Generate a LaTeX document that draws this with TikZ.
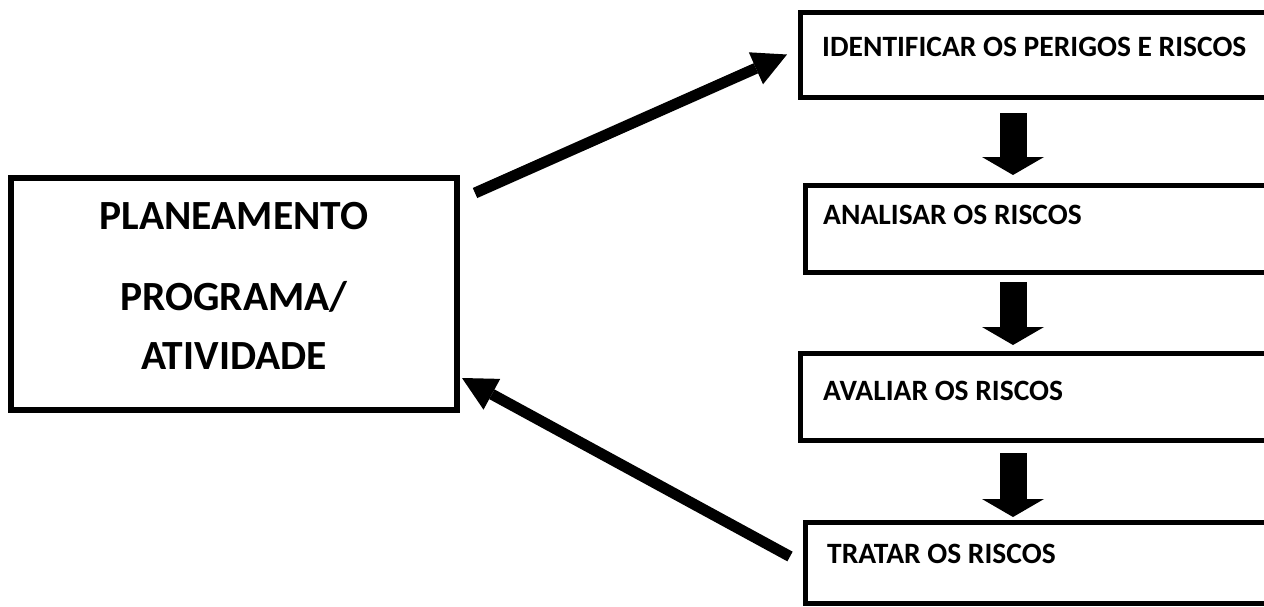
\documentclass[tikz,border=0pt]{standalone}
\usepackage{fontspec}
\setmainfont{Carlito}
\usetikzlibrary{arrows.meta,positioning,calc}

\begin{document}
\begin{tikzpicture}[
    x=1pt, y=-1pt,
    planbox/.style={rectangle, draw, line width=5.5pt, outer sep=0pt, inner sep=0pt, minimum width=446pt, minimum height=232pt},
    riskbox/.style={rectangle, draw, line width=5pt, outer sep=0pt, inner sep=0pt, minimum width=490pt, anchor=west},
    risktext/.style={anchor=west, inner sep=0pt, font=\fontsize{29.5}{35}\selectfont\bfseries},
    plantext/.style={anchor=north, inner sep=0pt, align=center, font=\fontsize{41.5}{59}\selectfont\bfseries},
    downarrow/.style={line width=27pt, -{Triangle[length=18pt,width=62pt,line width=0pt]}},
    bigarrow/.style={line width=11pt, -{Triangle[length=34pt,width=35pt,line width=0pt]}}
]

% Page frame
\useasboundingbox (0,0) rectangle (1264,606);
\clip (0,0) rectangle (1264,606);

% Left side - planning
\node[planbox] (plan) at (234,294) {};
\node[plantext] (plantxt) at ([yshift=-24pt]plan.north) {PLANEAMENTO\\[22pt]PROGRAMA/\\ATIVIDADE};

% Right side - risk steps
\node[riskbox, minimum height=85pt] (ident) at (800,54.5) {};
\node[riskbox, minimum height=87pt] (analyse) at (805,228.5) {};
\node[riskbox, minimum height=87pt] (evaluate) at (800,396.5) {};
\node[riskbox, minimum height=81pt] (treat) at (805,562.5) {};

\node[risktext] (identtxt) at ([xshift=22pt,yshift=7.5pt]ident.west) {IDENTIFICAR OS PERIGOS E RISCOS};
\node[risktext] (analysetxt) at ([xshift=18pt,yshift=13.5pt]analyse.west) {ANALISAR OS RISCOS};
\node[risktext] (evaluatetxt) at ([xshift=23pt,yshift=5.5pt]evaluate.west) {AVALIAR OS RISCOS};
\node[risktext] (treattxt) at ([xshift=22pt,yshift=8.5pt]treat.west) {TRATAR OS RISCOS};

% Arrows - steps
\coordinate (flow) at (1013,0);
\draw[downarrow, shorten <=16pt, shorten >=10pt] (ident.south -| flow) -- (analyse.north -| flow);
\draw[downarrow, shorten <=10pt, shorten >=8pt] (analyse.south -| flow) -- (evaluate.north -| flow);
\draw[downarrow, shorten <=13pt, shorten >=5pt] (evaluate.south -| flow) -- (treat.north -| flow);

% Arrows - loop
\draw[bigarrow] ([xshift=18pt,yshift=-15pt]plan.north east) -- ([xshift=-13pt]ident.west);
\draw[bigarrow] ([xshift=-15pt,yshift=6pt]treat.west) -- ([xshift=5pt,yshift=32pt]plan.south east);

\end{tikzpicture}
\end{document}
